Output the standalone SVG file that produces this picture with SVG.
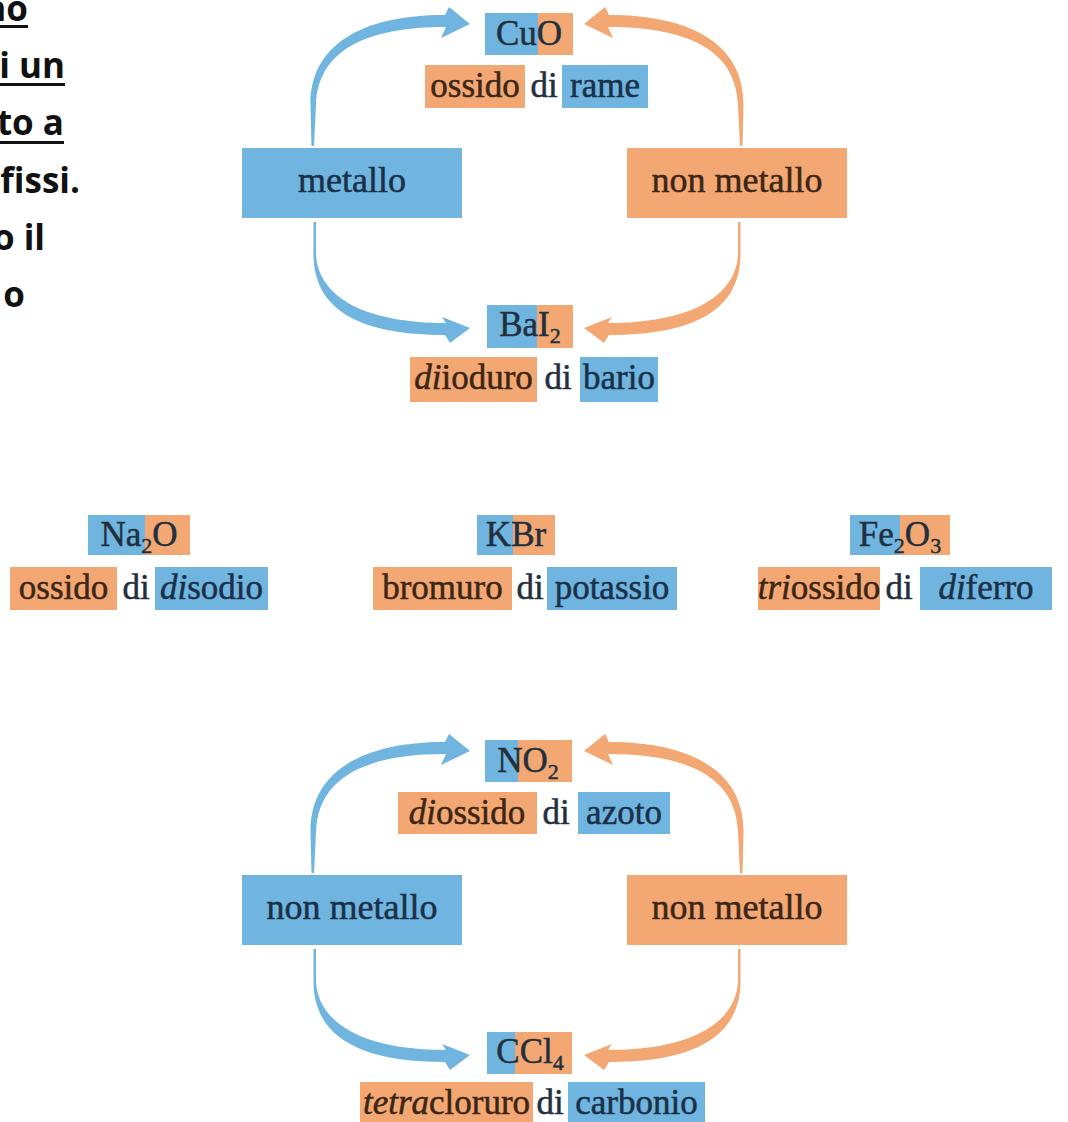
<svg xmlns="http://www.w3.org/2000/svg" xmlns:xlink="http://www.w3.org/1999/xlink" width="1068" height="1122" viewBox="0 0 1068 1122">
  <style>
    .bg { fill: #ffffff; }
    .blue { fill: #6fb5df; }
    .orange { fill: #f3a772; }
    .arrow-b { fill: #6fb5df; }
    .arrow-o { fill: #f3a772; }
    .lbl { font-family: "Liberation Serif", "Times New Roman", serif; font-size: 35px; fill: #22303e; stroke: #22303e; stroke-width: 0.5px; text-anchor: middle; }
    .big { font-family: "Liberation Serif", "Times New Roman", serif; font-size: 36px; fill: #22303e; stroke: #22303e; stroke-width: 0.5px; text-anchor: middle; }
    .on-o { fill: #3b2616; stroke: #3b2616; }
    .on-b { fill: #1b3048; stroke: #1b3048; }
    .it { font-style: italic; }
    .sub { font-size: 22px; }
    .note { font-family: "Open Sans", "Liberation Sans", sans-serif; font-weight: 700; font-size: 35px; fill: #111111; text-anchor: end; }
    .ul { fill: #111111; }
  </style>
  <defs>
    <!-- tapered curved arrow: from the top of the left box up to the formula -->
    <path id="arcUp" d="M311.5,146 L310.5,105 C310,46 360,15 445,15 L449,7 L470,24 L441,38 L446,27 C366,27 318,50 316,105 L314,146 Z"/>
    <!-- tapered curved arrow: from the bottom of the left box down to the formula -->
    <path id="arcDown" d="M313.5,222 L313.5,255 C314,310 360,335 445,335 L450,343 L470,328 L442,317 L446,323 C370,323 319,300 316,255 L316,222 Z"/>
  </defs>

  <rect class="bg" x="0" y="0" width="1068" height="1122"/>

  <!-- paragraph fragment cut by the left edge -->
  <g id="note">
    <text class="note" x="28" y="21">no</text>
    <rect class="ul" x="0" y="25" width="28" height="3"/>
    <text class="note" x="65" y="78">i un</text>
    <rect class="ul" x="0" y="83" width="65" height="3"/>
    <text class="note" x="64" y="135">to a</text>
    <rect class="ul" x="0" y="141" width="64" height="3"/>
    <text class="note" x="80" y="193">fissi.</text>
    <text class="note" x="45" y="250">o il</text>
    <text class="note" x="25" y="307">o</text>
  </g>

  <!-- connectors -->
  <g id="connectors">
    <use xlink:href="#arcUp" class="arrow-b"/>
    <use xlink:href="#arcDown" class="arrow-b"/>
    <use xlink:href="#arcUp" class="arrow-o" transform="translate(1054,0) scale(-1,1)"/>
    <use xlink:href="#arcDown" class="arrow-o" transform="translate(1054,0) scale(-1,1)"/>
    <g transform="translate(0,727)">
      <use xlink:href="#arcUp" class="arrow-b"/>
      <use xlink:href="#arcDown" class="arrow-b"/>
      <use xlink:href="#arcUp" class="arrow-o" transform="translate(1054,0) scale(-1,1)"/>
      <use xlink:href="#arcDown" class="arrow-o" transform="translate(1054,0) scale(-1,1)"/>
    </g>
  </g>

  <!-- first scheme: metal + non-metal -->
  <g id="cuo">
    <rect class="blue" x="485" y="13" width="53" height="42"/>
    <rect class="orange" x="538" y="13" width="35" height="42"/>
    <text class="lbl" x="529" y="45">CuO</text>
  </g>
  <g id="ossido-di-rame">
    <rect class="orange" x="425" y="65" width="100" height="43"/>
    <rect class="blue" x="562" y="65" width="86" height="43"/>
    <text class="lbl on-o" x="475" y="97">ossido</text>
    <text class="lbl" x="544" y="97">di</text>
    <text class="lbl on-b" x="605" y="97">rame</text>
  </g>
  <g id="metallo">
    <rect class="blue" x="242" y="148" width="220" height="70"/>
    <text class="big on-b" x="352" y="192">metallo</text>
  </g>
  <g id="non-metallo-1">
    <rect class="orange" x="627" y="148" width="220" height="70"/>
    <text class="big on-o" x="737" y="192">non metallo</text>
  </g>
  <g id="bai2">
    <rect class="blue" x="487" y="305" width="50" height="43"/>
    <rect class="orange" x="537" y="305" width="36" height="43"/>
    <text class="lbl" x="530" y="336">BaI<tspan class="sub" dy="7">2</tspan></text>
  </g>
  <g id="diioduro-di-bario">
    <rect class="orange" x="410" y="357" width="127" height="45"/>
    <rect class="blue" x="580" y="357" width="78" height="45"/>
    <text class="lbl on-o" x="473.5" y="389"><tspan class="it">di</tspan>ioduro</text>
    <text class="lbl" x="558" y="389">di</text>
    <text class="lbl on-b" x="619" y="389">bario</text>
  </g>

  <!-- examples -->
  <g id="na2o">
    <rect class="blue" x="88" y="515" width="57" height="40"/>
    <rect class="orange" x="145" y="515" width="45" height="40"/>
    <text class="lbl" x="139" y="546">Na<tspan class="sub" dy="7">2</tspan><tspan dy="-7">O</tspan></text>
  </g>
  <g id="ossido-di-disodio">
    <rect class="orange" x="10" y="567" width="107" height="43"/>
    <rect class="blue" x="155" y="567" width="113" height="43"/>
    <text class="lbl on-o" x="63.5" y="599">ossido</text>
    <text class="lbl" x="136" y="599">di</text>
    <text class="lbl on-b" x="211.5" y="599"><tspan class="it">di</tspan>sodio</text>
  </g>
  <g id="kbr">
    <rect class="blue" x="477" y="515" width="36" height="40"/>
    <rect class="orange" x="513" y="515" width="42" height="40"/>
    <text class="lbl" x="516" y="546">KBr</text>
  </g>
  <g id="bromuro-di-potassio">
    <rect class="orange" x="373" y="567" width="139" height="43"/>
    <rect class="blue" x="547" y="567" width="130" height="43"/>
    <text class="lbl on-o" x="442.5" y="599">bromuro</text>
    <text class="lbl" x="530" y="599">di</text>
    <text class="lbl on-b" x="612" y="599">potassio</text>
  </g>
  <g id="fe2o3">
    <rect class="blue" x="850" y="515" width="50" height="40"/>
    <rect class="orange" x="900" y="515" width="50" height="40"/>
    <text class="lbl" x="900" y="546">Fe<tspan class="sub" dy="7">2</tspan><tspan dy="-7">O</tspan><tspan class="sub" dy="7">3</tspan></text>
  </g>
  <g id="triossido-di-diferro">
    <rect class="orange" x="758" y="567" width="122" height="43"/>
    <rect class="blue" x="920" y="567" width="132" height="43"/>
    <text class="lbl on-o" x="819" y="599"><tspan class="it">tri</tspan>ossido</text>
    <text class="lbl" x="899" y="599">di</text>
    <text class="lbl on-b" x="986" y="599"><tspan class="it">di</tspan>ferro</text>
  </g>

  <!-- second scheme: non-metal + non-metal -->
  <g id="no2">
    <rect class="blue" x="485" y="740" width="33" height="42"/>
    <rect class="orange" x="518" y="740" width="54" height="42"/>
    <text class="lbl" x="528" y="772">NO<tspan class="sub" dy="7">2</tspan></text>
  </g>
  <g id="diossido-di-azoto">
    <rect class="orange" x="398" y="792" width="139" height="42"/>
    <rect class="blue" x="578" y="792" width="92" height="42"/>
    <text class="lbl on-o" x="467" y="824"><tspan class="it">di</tspan>ossido</text>
    <text class="lbl" x="556" y="824">di</text>
    <text class="lbl on-b" x="624" y="824">azoto</text>
  </g>
  <g id="non-metallo-2">
    <rect class="blue" x="242" y="875" width="220" height="70"/>
    <text class="big on-b" x="352" y="919">non metallo</text>
  </g>
  <g id="non-metallo-3">
    <rect class="orange" x="627" y="875" width="220" height="70"/>
    <text class="big on-o" x="737" y="919">non metallo</text>
  </g>
  <g id="ccl4">
    <rect class="blue" x="487" y="1032" width="28" height="42"/>
    <rect class="orange" x="515" y="1032" width="57" height="42"/>
    <text class="lbl" x="530" y="1063">CCl<tspan class="sub" dy="7">4</tspan></text>
  </g>
  <g id="tetracloruro-di-carbonio">
    <rect class="orange" x="360" y="1082" width="173" height="42"/>
    <rect class="blue" x="568" y="1082" width="137" height="42"/>
    <text class="lbl on-o" x="446.5" y="1114"><tspan class="it">tetra</tspan>cloruro</text>
    <text class="lbl" x="550" y="1114">di</text>
    <text class="lbl on-b" x="636.5" y="1114">carbonio</text>
  </g>
</svg>
